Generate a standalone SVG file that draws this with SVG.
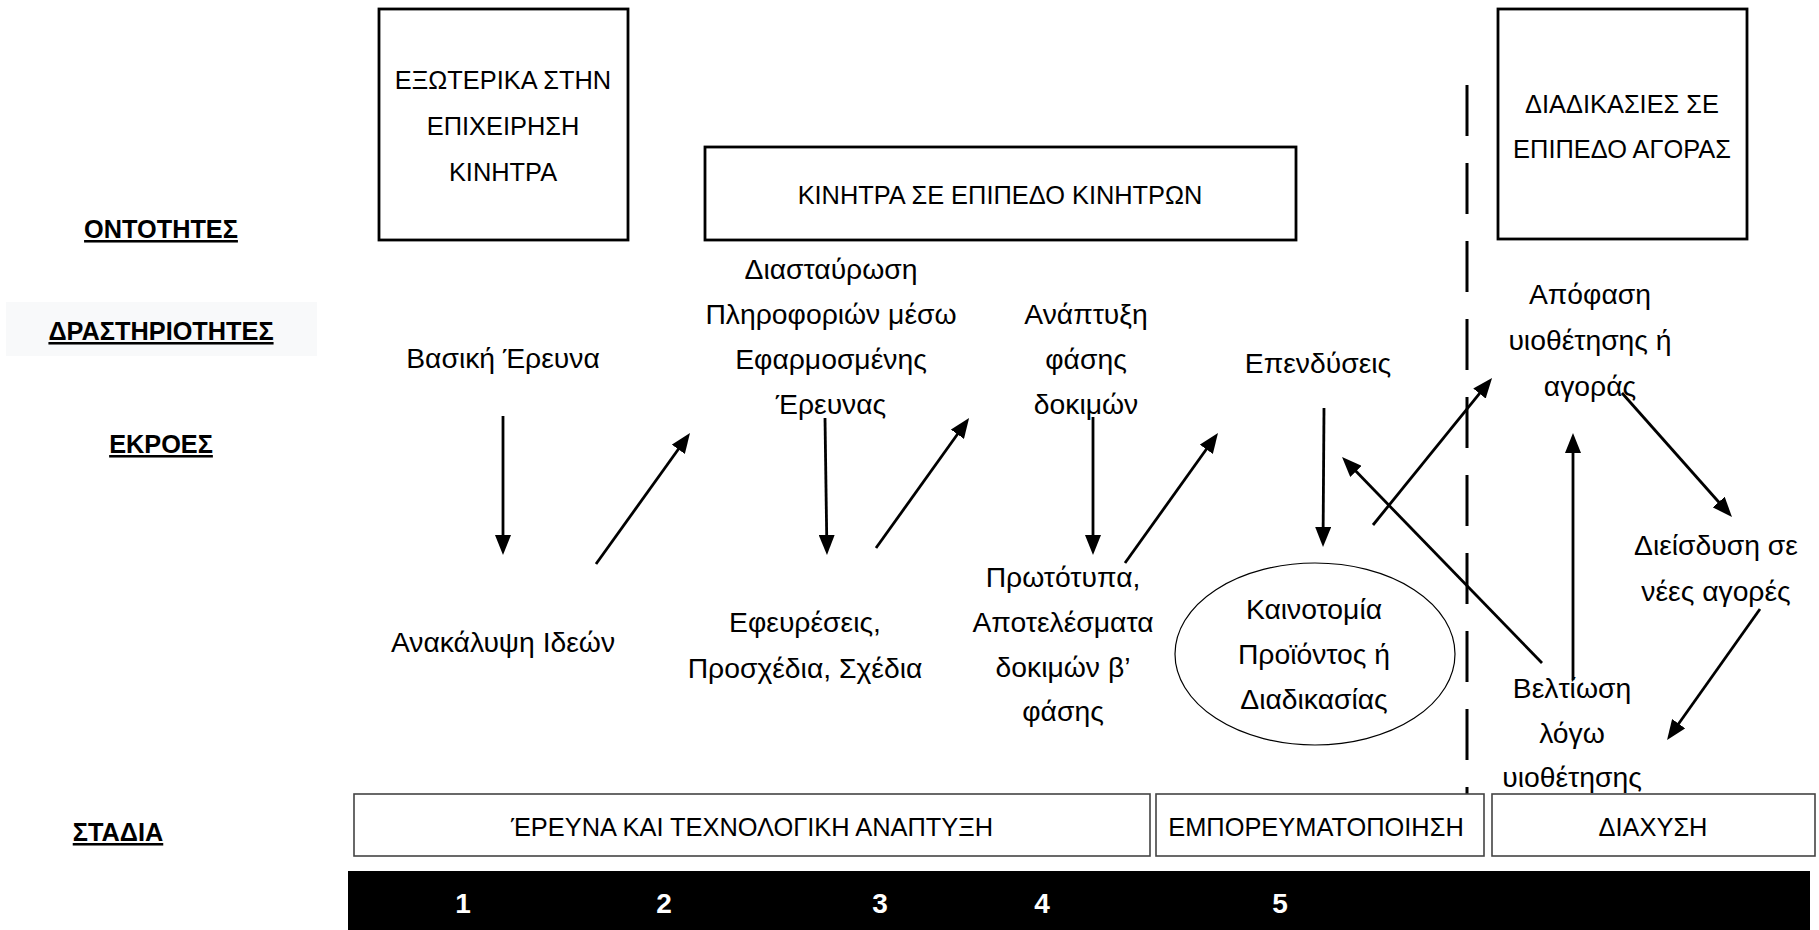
<svg xmlns="http://www.w3.org/2000/svg" width="1819" height="930" viewBox="0 0 1819 930">
<style>
text{font-family:"Liberation Sans",Arial,sans-serif;fill:#000;text-anchor:middle}
.t{font-size:28.3px}
.c{font-size:25.4px}
.lbl{font-size:25.3px;font-weight:bold;text-decoration:underline}
.num{font-size:28px;font-weight:bold;fill:#fff}
.box{fill:#fff;stroke:#000;stroke-width:2.8}
.stage{fill:#fff;stroke:#444;stroke-width:1.6}
.arr{stroke:#000;stroke-width:2.8;fill:none;marker-end:url(#ah)}
</style>
<defs>
<marker id="ah" viewBox="0 0 20 16" markerWidth="20" markerHeight="16" refX="8" refY="8" markerUnits="userSpaceOnUse" orient="auto">
<path d="M0,0 L20,8 L0,16 z" fill="#000"/>
</marker>
</defs>
<rect width="1819" height="930" fill="#fff"/>

<g id="row-labels">
<text class="lbl" x="161" y="238">ΟΝΤΟΤΗΤΕΣ</text>
<rect x="6" y="302" width="311" height="54" fill="#f8f9fa"/>
<text class="lbl" x="161" y="340">ΔΡΑΣΤΗΡΙΟΤΗΤΕΣ</text>
<text class="lbl" x="161" y="453">ΕΚΡΟΕΣ</text>
<text class="lbl" x="118" y="841">ΣΤΑΔΙΑ</text>
</g>

<g id="box-external">
<rect class="box" x="379" y="9" width="249" height="231"/>
<text class="c" x="503"><tspan x="503" y="89">ΕΞΩΤΕΡΙΚΑ ΣΤΗΝ</tspan><tspan x="503" y="135">ΕΠΙΧΕΙΡΗΣΗ</tspan><tspan x="503" y="181">ΚΙΝΗΤΡΑ</tspan></text>
</g>
<g id="box-incentives">
<rect class="box" x="705" y="147" width="591" height="93"/>
<text class="c" x="1000" y="204">ΚΙΝΗΤΡΑ ΣΕ ΕΠΙΠΕΔΟ ΚΙΝΗΤΡΩΝ</text>
</g>
<g id="box-market">
<rect class="box" x="1498" y="9" width="249" height="230"/>
<text class="c" x="1622"><tspan x="1622" y="113">ΔΙΑΔΙΚΑΣΙΕΣ ΣΕ</tspan><tspan x="1622" y="158">ΕΠΙΠΕΔΟ ΑΓΟΡΑΣ</tspan></text>
</g>

<g id="divider">
<line x1="1467" y1="85" x2="1467" y2="795" stroke="#000" stroke-width="3" stroke-dasharray="51 27"/>
</g>

<g id="basic-research"><text class="t" x="503" y="368">Βασική Έρευνα</text></g>
<g id="idea-discovery"><text class="t" x="503" y="652">Ανακάλυψη Ιδεών</text></g>
<g id="applied-research"><text class="t"><tspan x="831" y="279">Διασταύρωση</tspan><tspan x="831" y="324">Πληροφοριών μέσω</tspan><tspan x="831" y="369">Εφαρμοσμένης</tspan><tspan x="831" y="414">Έρευνας</tspan></text></g>
<g id="inventions"><text class="t"><tspan x="805" y="632">Εφευρέσεις,</tspan><tspan x="805" y="678">Προσχέδια, Σχέδια</tspan></text></g>
<g id="test-development"><text class="t"><tspan x="1086" y="324">Ανάπτυξη</tspan><tspan x="1086" y="369">φάσης</tspan><tspan x="1086" y="414">δοκιμών</tspan></text></g>
<g id="prototypes"><text class="t"><tspan x="1063" y="587">Πρωτότυπα,</tspan><tspan x="1063" y="632">Αποτελέσματα</tspan><tspan x="1063" y="677">δοκιμών β’</tspan><tspan x="1063" y="721">φάσης</tspan></text></g>
<g id="investments"><text class="t" x="1318" y="373">Επενδύσεις</text></g>
<g id="innovation">
<ellipse cx="1315" cy="654" rx="140" ry="91" fill="#fff" stroke="#000" stroke-width="1.2"/>
<text class="t"><tspan x="1314" y="619">Καινοτομία</tspan><tspan x="1314" y="664">Προϊόντος ή</tspan><tspan x="1314" y="709">Διαδικασίας</tspan></text>
</g>
<g id="adoption-decision"><text class="t"><tspan x="1590" y="304">Απόφαση</tspan><tspan x="1590" y="350">υιοθέτησης ή</tspan><tspan x="1590" y="396">αγοράς</tspan></text></g>
<g id="new-markets"><text class="t"><tspan x="1716" y="555">Διείσδυση σε</tspan><tspan x="1716" y="601">νέες αγορές</tspan></text></g>
<g id="improvement"><text class="t"><tspan x="1572" y="698">Βελτίωση</tspan><tspan x="1572" y="743">λόγω</tspan><tspan x="1572" y="787">υιοθέτησης</tspan></text></g>

<g id="connectors">
<line class="arr" x1="503" y1="416" x2="503" y2="543"/>
<line class="arr" x1="596" y1="564" x2="683" y2="442.8"/>
<line class="arr" x1="825" y1="418" x2="826.8" y2="543"/>
<line class="arr" x1="876" y1="548" x2="962.1" y2="427.8"/>
<line class="arr" x1="1093" y1="417" x2="1093" y2="543"/>
<line class="arr" x1="1125" y1="563" x2="1211" y2="442.8"/>
<line class="arr" x1="1324" y1="408" x2="1323.1" y2="535"/>
<line class="arr" x1="1373" y1="525" x2="1484.5" y2="387.3"/>
<line class="arr" x1="1542" y1="663" x2="1350.4" y2="465.6"/>
<line class="arr" x1="1573" y1="680" x2="1573" y2="445"/>
<line class="arr" x1="1622" y1="393" x2="1724" y2="508"/>
<line class="arr" x1="1760" y1="609" x2="1674" y2="730.2"/>
</g>

<g id="stage-rd">
<rect class="stage" x="354" y="794" width="796" height="62"/>
<text class="c" x="752" y="836">ΈΡΕΥΝΑ ΚΑΙ ΤΕΧΝΟΛΟΓΙΚΗ ΑΝΑΠΤΥΞΗ</text>
</g>
<g id="stage-commercialization">
<rect class="stage" x="1156" y="794" width="328" height="62"/>
<text class="c" x="1316" y="836">ΕΜΠΟΡΕΥΜΑΤΟΠΟΙΗΣΗ</text>
</g>
<g id="stage-diffusion">
<rect class="stage" x="1492" y="794" width="323" height="62"/>
<text class="c" x="1653" y="836">ΔΙΑΧΥΣΗ</text>
</g>

<g id="timeline">
<rect x="348" y="871" width="1462" height="59" fill="#000"/>
<text class="num" x="463" y="913">1</text>
<text class="num" x="664" y="913">2</text>
<text class="num" x="880" y="913">3</text>
<text class="num" x="1042" y="913">4</text>
<text class="num" x="1280" y="913">5</text>
</g>
</svg>
